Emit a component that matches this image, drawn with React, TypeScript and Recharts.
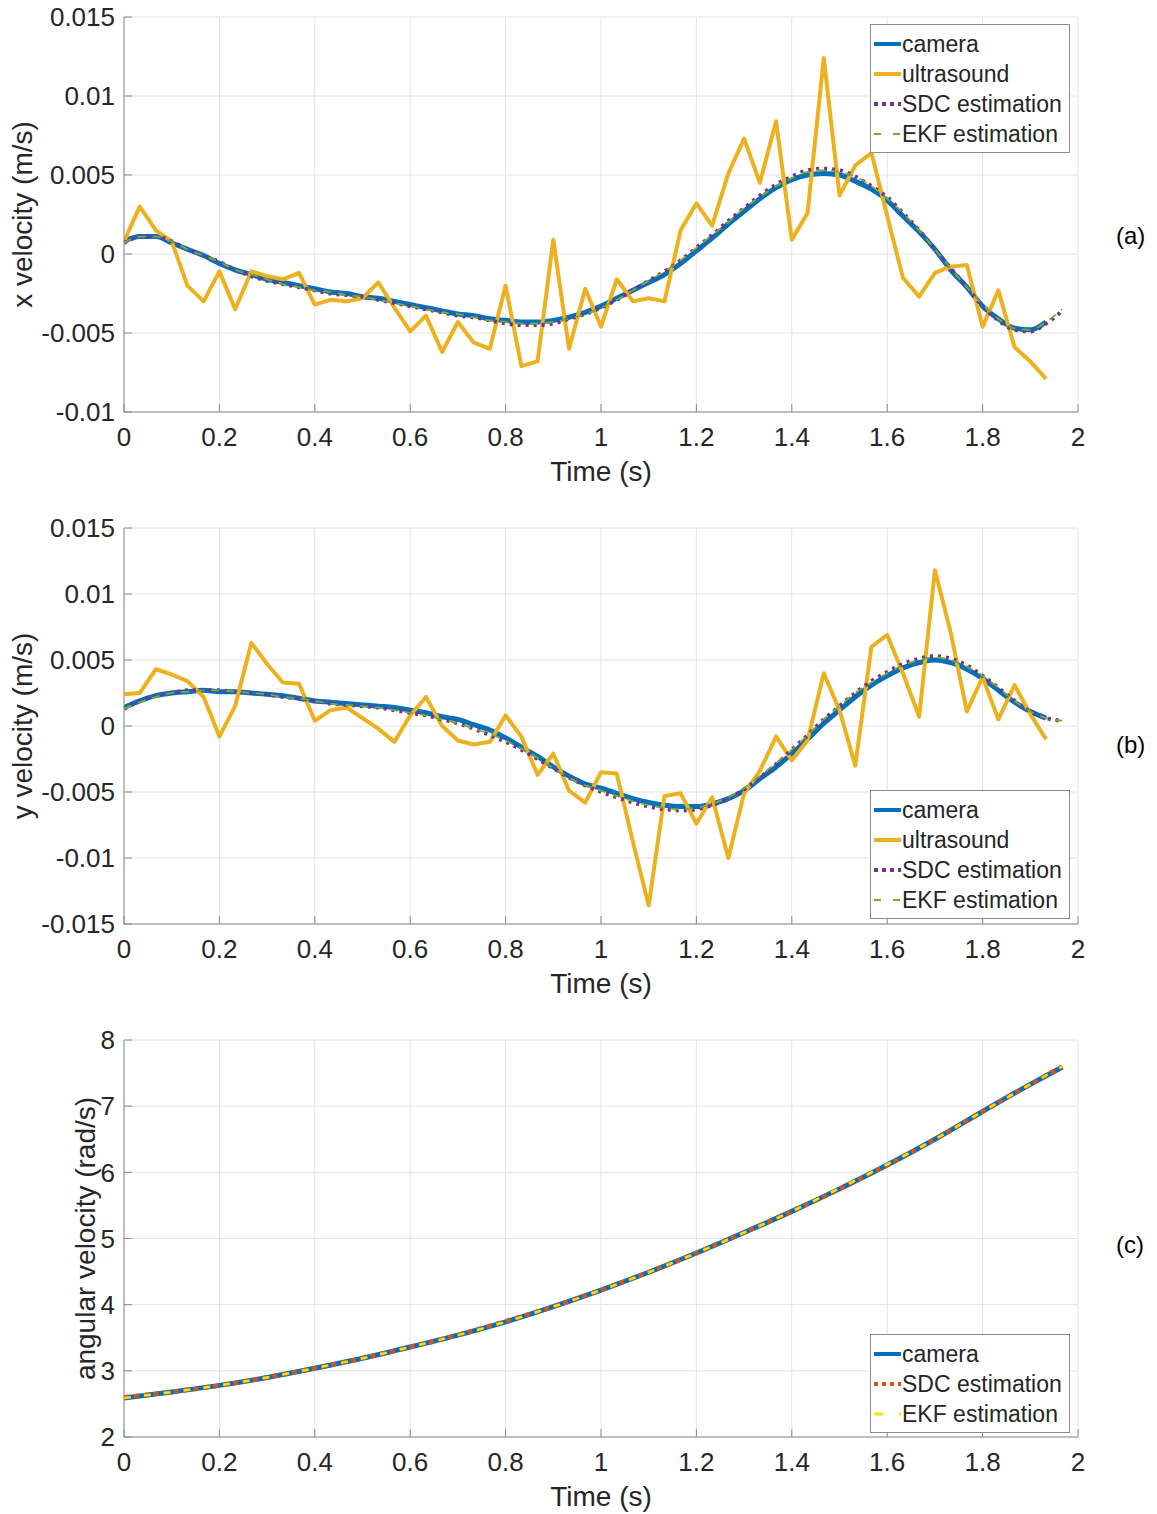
import React from 'react';
import { LineChart, Line, XAxis, YAxis, CartesianGrid, Legend, Label } from 'recharts';

const FONT = '"Liberation Sans", Arial, Helvetica, sans-serif';
const TEXT = '#262626';
const BOX = '#8c8c8c';
const GRID = '#e4e4e4';

// time samples (s)
const TIME = [
  0, 0.033, 0.067, 0.1, 0.133, 0.167, 0.2, 0.233, 0.267, 0.3,
  0.333, 0.367, 0.4, 0.433, 0.467, 0.5, 0.533, 0.567, 0.6, 0.633,
  0.667, 0.7, 0.733, 0.767, 0.8, 0.833, 0.867, 0.9, 0.933, 0.967,
  1.0, 1.033, 1.067, 1.1, 1.133, 1.167, 1.2, 1.233, 1.267, 1.3,
  1.333, 1.367, 1.4, 1.433, 1.467, 1.5, 1.533, 1.567, 1.6, 1.633,
  1.667, 1.7, 1.733, 1.767, 1.8, 1.833, 1.867, 1.9, 1.933, 1.967,
];
const TIME_C = [0, 0.1, 0.2, 0.3, 0.4, 0.5, 0.6, 0.7, 0.8, 0.9, 1.0, 1.1, 1.2, 1.3, 1.4, 1.5, 1.6, 1.7, 1.8, 1.9, 1.967];

const X_TICKS = [0, 0.2, 0.4, 0.6, 0.8, 1, 1.2, 1.4, 1.6, 1.8, 2];
const YA_TICKS = [-0.01, -0.005, 0, 0.005, 0.01, 0.015];
const YB_TICKS = [-0.015, -0.01, -0.005, 0, 0.005, 0.01, 0.015];
const YC_TICKS = [2, 3, 4, 5, 6, 7, 8];

// (a) x velocity
const CAMERA_A = [
  0.0008, 0.0011, 0.0011, 0.0007, 0.0003, -0.0001, -0.0006, -0.0010, -0.0013, -0.0016,
  -0.0018, -0.0020, -0.0022, -0.0024, -0.0025, -0.0027, -0.0028, -0.0030, -0.0032, -0.0034,
  -0.0036, -0.0038, -0.0039, -0.0041, -0.0042, -0.0043, -0.0043, -0.0042, -0.0040, -0.0037,
  -0.0033, -0.0028, -0.0023, -0.0018, -0.0013, -0.0006, 0.0002, 0.0010, 0.0019, 0.0027,
  0.0035, 0.0042, 0.0047, 0.0050, 0.0051, 0.0050, 0.0046, 0.0041, 0.0034, 0.0024,
  0.0014, 0.0003, -0.0010, -0.0021, -0.0033, -0.0041, -0.0047, -0.0048, -0.0043,
];
const ULTRA_A = [
  0.0008, 0.0030, 0.0015, 0.0008, -0.0020, -0.0030, -0.0011, -0.0035, -0.0011, -0.0014,
  -0.0016, -0.0012, -0.0032, -0.0029, -0.0030, -0.0028, -0.0018, -0.0034, -0.0049, -0.0039,
  -0.0062, -0.0043, -0.0056, -0.0060, -0.0020, -0.0071, -0.0068, 0.0009, -0.0060, -0.0022,
  -0.0046, -0.0016, -0.0030, -0.0028, -0.0030, 0.0015, 0.0032, 0.0018, 0.0051, 0.0073,
  0.0045, 0.0084, 0.0009, 0.0026, 0.0124, 0.0037, 0.0056, 0.0064, 0.0024, -0.0015,
  -0.0027, -0.0012, -0.0008, -0.0007, -0.0046, -0.0023, -0.0059, -0.0068, -0.0079,
];
const SDC_A = [
  0.0007, 0.0011, 0.0011, 0.0008, 0.0003, -0.0001, -0.0005, -0.0010, -0.0014, -0.0017,
  -0.0019, -0.0021, -0.0023, -0.0025, -0.0026, -0.0027, -0.0029, -0.0031, -0.0033, -0.0035,
  -0.0037, -0.0039, -0.0040, -0.0042, -0.0044, -0.0045, -0.0045, -0.0044, -0.0041, -0.0038,
  -0.0034, -0.0029, -0.0023, -0.0017, -0.0011, -0.0004, 0.0004, 0.0012, 0.0021, 0.0029,
  0.0037, 0.0044, 0.0049, 0.0053, 0.0054, 0.0053, 0.0049, 0.0043, 0.0036, 0.0026,
  0.0015, 0.0003, -0.0009, -0.0021, -0.0033, -0.0042, -0.0048, -0.0049, -0.0044, -0.0036,
];
const EKF_A = [
  0.0007, 0.0011, 0.0011, 0.0008, 0.0003, -0.0001, -0.0005, -0.0010, -0.0013, -0.0016,
  -0.0019, -0.0021, -0.0023, -0.0024, -0.0026, -0.0027, -0.0029, -0.0031, -0.0033, -0.0035,
  -0.0037, -0.0038, -0.0040, -0.0042, -0.0043, -0.0044, -0.0044, -0.0043, -0.0041, -0.0038,
  -0.0034, -0.0029, -0.0023, -0.0017, -0.0011, -0.0004, 0.0004, 0.0012, 0.0020, 0.0029,
  0.0036, 0.0043, 0.0048, 0.0052, 0.0053, 0.0052, 0.0049, 0.0043, 0.0035, 0.0026,
  0.0015, 0.0003, -0.0009, -0.0021, -0.0032, -0.0041, -0.0047, -0.0048, -0.0043, -0.0035,
];

// (b) y velocity
const CAMERA_B = [
  0.0014, 0.0019, 0.0023, 0.0025, 0.0026, 0.0027, 0.0026, 0.0026, 0.0025, 0.0024,
  0.0023, 0.0021, 0.0019, 0.0018, 0.0017, 0.0016, 0.0015, 0.0014, 0.0012, 0.0010,
  0.0007, 0.0005, 0.0001, -0.0003, -0.0009, -0.0016, -0.0023, -0.0031, -0.0038, -0.0044,
  -0.0047, -0.0051, -0.0055, -0.0058, -0.0060, -0.0061, -0.0061, -0.0059, -0.0055, -0.0049,
  -0.0040, -0.0031, -0.0021, -0.0010, 0.0002, 0.0012, 0.0022, 0.0031, 0.0038, 0.0044,
  0.0048, 0.0050, 0.0048, 0.0043, 0.0036, 0.0027, 0.0018, 0.0011, 0.0006,
];
const ULTRA_B = [
  0.0024, 0.0025, 0.0043, 0.0039, 0.0034, 0.0022, -0.0008, 0.0015, 0.0063, 0.0047,
  0.0033, 0.0032, 0.0004, 0.0012, 0.0014, 0.0006, -0.0002, -0.0012, 0.0008, 0.0022,
  0.0000, -0.0011, -0.0014, -0.0012, 0.0008, -0.0008, -0.0037, -0.0021, -0.0049, -0.0058,
  -0.0035, -0.0036, -0.0088, -0.0136, -0.0053, -0.0051, -0.0074, -0.0054, -0.0100, -0.0051,
  -0.0034, -0.0008, -0.0026, -0.0011, 0.0040, 0.0012, -0.0030, 0.0060, 0.0069, 0.0040,
  0.0007, 0.0118, 0.0071, 0.0011, 0.0037, 0.0005, 0.0031, 0.0009, -0.0010,
];
const SDC_B = [
  0.0013, 0.0019, 0.0023, 0.0025, 0.0027, 0.0027, 0.0027, 0.0026, 0.0025, 0.0024,
  0.0022, 0.0021, 0.0019, 0.0017, 0.0016, 0.0015, 0.0014, 0.0012, 0.0010, 0.0008,
  0.0005, 0.0002, -0.0002, -0.0007, -0.0012, -0.0018, -0.0025, -0.0032, -0.0039, -0.0045,
  -0.0050, -0.0054, -0.0058, -0.0061, -0.0063, -0.0064, -0.0063, -0.0060, -0.0055, -0.0048,
  -0.0039, -0.0029, -0.0018, -0.0007, 0.0005, 0.0015, 0.0025, 0.0034, 0.0041, 0.0047,
  0.0051, 0.0053, 0.0051, 0.0046, 0.0038, 0.0029, 0.0019, 0.0011, 0.0006, 0.0004,
];
const EKF_B = [
  0.0013, 0.0018, 0.0022, 0.0025, 0.0026, 0.0027, 0.0027, 0.0026, 0.0025, 0.0024,
  0.0022, 0.0021, 0.0019, 0.0017, 0.0016, 0.0015, 0.0014, 0.0012, 0.0010, 0.0008,
  0.0005, 0.0002, -0.0002, -0.0006, -0.0011, -0.0017, -0.0024, -0.0032, -0.0039, -0.0045,
  -0.0049, -0.0053, -0.0057, -0.0060, -0.0062, -0.0063, -0.0062, -0.0059, -0.0054, -0.0047,
  -0.0038, -0.0028, -0.0018, -0.0007, 0.0005, 0.0015, 0.0025, 0.0033, 0.0040, 0.0046,
  0.0050, 0.0052, 0.0050, 0.0045, 0.0038, 0.0029, 0.0019, 0.0011, 0.0006, 0.0004,
];

// (c) angular velocity
const CAMERA_C = [2.59, 2.68, 2.78, 2.90, 3.04, 3.19, 3.36, 3.54, 3.74, 3.97, 4.22, 4.49, 4.78, 5.09, 5.41, 5.75, 6.11, 6.50, 6.92, 7.33, 7.59];
const SDC_C = [2.60, 2.68, 2.78, 2.90, 3.04, 3.19, 3.36, 3.54, 3.75, 3.97, 4.22, 4.49, 4.78, 5.09, 5.41, 5.75, 6.11, 6.50, 6.92, 7.33, 7.60];
const EKF_C = [2.59, 2.68, 2.78, 2.90, 3.04, 3.19, 3.36, 3.54, 3.74, 3.97, 4.22, 4.49, 4.78, 5.09, 5.41, 5.76, 6.12, 6.50, 6.92, 7.33, 7.60];

type SeriesDef = {
  key: string;
  name: string;
  color: string;
  width: number;
  dash?: string;
  legendDash?: string;
  legendWidth: number;
  curve: 'monotone' | 'linear';
};

const SERIES_AB: SeriesDef[] = [
  { key: 'camera', name: 'camera', color: '#0072BD', width: 5, legendWidth: 4, curve: 'monotone' },
  { key: 'ultrasound', name: 'ultrasound', color: '#EDB120', width: 4, legendWidth: 4, curve: 'linear' },
  { key: 'sdc', name: 'SDC estimation', color: '#7E2F8E', width: 4, dash: '3 5', legendDash: '4 4', legendWidth: 4, curve: 'monotone' },
  { key: 'ekf', name: 'EKF estimation', color: '#77AC30', width: 1.8, dash: '8 7', legendDash: '7 12', legendWidth: 2, curve: 'monotone' },
];

const SERIES_C: SeriesDef[] = [
  { key: 'camera', name: 'camera', color: '#0072BD', width: 5, legendWidth: 4, curve: 'monotone' },
  { key: 'sdc', name: 'SDC estimation', color: '#D95319', width: 4.5, dash: '5 5', legendDash: '4 4', legendWidth: 4, curve: 'monotone' },
  { key: 'ekf', name: 'EKF estimation', color: '#FFE000', width: 2.5, dash: '7 13', legendDash: '9 16', legendWidth: 3, curve: 'monotone' },
];

const rowsA = TIME.map((t, i) => ({ t, camera: CAMERA_A[i], ultrasound: ULTRA_A[i], sdc: SDC_A[i], ekf: EKF_A[i] }));
const rowsB = TIME.map((t, i) => ({ t, camera: CAMERA_B[i], ultrasound: ULTRA_B[i], sdc: SDC_B[i], ekf: EKF_B[i] }));
const rowsC = TIME_C.map((t, i) => ({ t, camera: CAMERA_C[i], sdc: SDC_C[i], ekf: EKF_C[i] }));

function LegendBox({ items }: { items: SeriesDef[] }) {
  return (
    <div
      style={{
        width: 200,
        boxSizing: 'border-box',
        border: `1px solid ${BOX}`,
        background: '#fff',
        padding: '4px 0 3px 0',
        fontFamily: FONT,
        fontSize: 23,
        color: TEXT,
      }}
    >
      {items.map((it) => (
        <div key={it.key} style={{ display: 'flex', alignItems: 'center', height: 30, whiteSpace: 'nowrap' }}>
          <svg width={28} height={12} style={{ marginLeft: 2, flex: 'none' }}>
            <line x1={1} x2={28} y1={6} y2={6} stroke={it.color} strokeWidth={it.legendWidth} strokeDasharray={it.legendDash} />
          </svg>
          <span style={{ marginLeft: 1, lineHeight: '30px' }}>{it.name}</span>
        </div>
      ))}
    </div>
  );
}

const makeYLabel = (text: string, x: number) => (props: any) => {
  const vb = props.viewBox || { y: 0, height: 0 };
  const cy = vb.y + vb.height / 2;
  return (
    <text
      x={x}
      y={cy}
      transform={`rotate(-90 ${x} ${cy})`}
      textAnchor="middle"
      dominantBaseline="central"
      fontSize={28}
      fill={TEXT}
      fontFamily={FONT}
    >
      {text}
    </text>
  );
};

const xLabel = (props: any) => {
  const vb = props.viewBox || { x: 0, y: 0, width: 0 };
  return (
    <text x={vb.x + vb.width / 2} y={vb.y + 69} textAnchor="middle" fontSize={28} fill={TEXT} fontFamily={FONT}>
      Time (s)
    </text>
  );
};

type PanelProps = {
  top: number;
  height: number;
  plotH: number;
  data: any[];
  yDomain: [number, number];
  yTicks: number[];
  yLabel: string;
  labelX: number;
  series: SeriesDef[];
  legendTop: number;
  tag: string;
  tagY: number;
};

function Panel(p: PanelProps) {
  const xAxisH = p.height - 17 - p.plotH;
  const tickStyle = { fontSize: 26, fill: TEXT, fontFamily: FONT };
  return (
    <div style={{ position: 'absolute', left: 0, top: p.top, width: 1157, height: p.height }}>
      <LineChart width={1157} height={p.height} data={p.data} margin={{ top: 17, right: 79, bottom: 0, left: 0 }}>
        <CartesianGrid stroke={GRID} strokeWidth={1} />
        <XAxis
          dataKey="t"
          type="number"
          domain={[0, 2]}
          ticks={X_TICKS}
          interval={0}
          height={xAxisH}
          tickSize={-8}
          tickMargin={24}
          tick={tickStyle}
          axisLine={{ stroke: BOX }}
          tickLine={{ stroke: BOX }}
          allowDataOverflow
        >
          <Label content={xLabel} />
        </XAxis>
        <XAxis
          xAxisId="top"
          orientation="top"
          type="number"
          domain={[0, 2]}
          ticks={X_TICKS}
          interval={0}
          height={0}
          tick={false}
          tickSize={-8}
          axisLine={{ stroke: BOX }}
          tickLine={{ stroke: BOX }}
        />
        <YAxis
          type="number"
          domain={p.yDomain}
          ticks={p.yTicks}
          interval={0}
          width={124}
          tickSize={-8}
          tickMargin={17}
          tick={tickStyle}
          axisLine={{ stroke: BOX }}
          tickLine={{ stroke: BOX }}
          allowDataOverflow
        >
          <Label content={makeYLabel(p.yLabel, p.labelX)} />
        </YAxis>
        <YAxis
          yAxisId="right"
          orientation="right"
          type="number"
          domain={p.yDomain}
          ticks={p.yTicks}
          interval={0}
          width={0}
          tick={false}
          tickSize={-8}
          axisLine={{ stroke: BOX }}
          tickLine={{ stroke: BOX }}
        />
        {p.series.map((s) => (
          <Line
            key={s.key}
            dataKey={s.key}
            name={s.name}
            type={s.curve}
            stroke={s.color}
            strokeWidth={s.width}
            strokeDasharray={s.dash}
            strokeLinejoin="round"
            dot={false}
            activeDot={false}
            isAnimationActive={false}
          />
        ))}
        <Legend
          layout="vertical"
          align="center"
          verticalAlign="middle"
          wrapperStyle={{ left: 870, top: p.legendTop, width: 200, right: 'auto', bottom: 'auto' }}
          content={() => <LegendBox items={p.series} />}
        />
      </LineChart>
      <div
        style={{
          position: 'absolute',
          left: 1116,
          top: p.tagY - 15,
          fontFamily: FONT,
          fontSize: 24,
          lineHeight: '30px',
          color: '#000',
        }}
      >
        {p.tag}
      </div>
    </div>
  );
}

export default function App() {
  return (
    <div style={{ position: 'absolute', left: 0, top: 0, width: 1157, height: 1514, background: '#fff', overflow: 'hidden' }}>
      <Panel
        top={0}
        height={500}
        plotH={395}
        data={rowsA}
        yDomain={[-0.01, 0.015]}
        yTicks={YA_TICKS}
        yLabel="x velocity (m/s)"
        labelX={22}
        series={SERIES_AB}
        legendTop={24}
        tag="(a)"
        tagY={236}
      />
      <Panel
        top={511}
        height={500}
        plotH={396}
        data={rowsB}
        yDomain={[-0.015, 0.015]}
        yTicks={YB_TICKS}
        yLabel="y velocity (m/s)"
        labelX={22}
        series={SERIES_AB}
        legendTop={279}
        tag="(b)"
        tagY={234}
      />
      <Panel
        top={1023}
        height={491}
        plotH={397}
        data={rowsC}
        yDomain={[2, 8]}
        yTicks={YC_TICKS}
        yLabel="angular velocity (rad/s)"
        labelX={85}
        series={SERIES_C}
        legendTop={311}
        tag="(c)"
        tagY={222}
      />
    </div>
  );
}
